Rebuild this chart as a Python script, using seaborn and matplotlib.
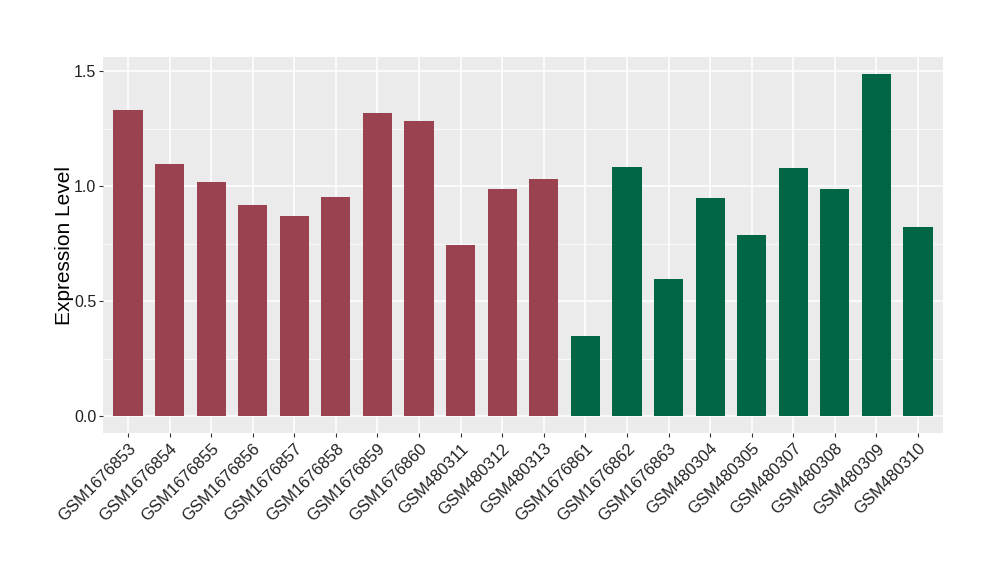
import pandas as pd
import matplotlib
matplotlib.use("Agg")
import matplotlib.pyplot as plt
from matplotlib.ticker import MultipleLocator
import seaborn as sns

# Sample names, expression values and the group each sample belongs to
samples = ["GSM1676853", "GSM1676854", "GSM1676855", "GSM1676856", "GSM1676857",
           "GSM1676858", "GSM1676859", "GSM1676860", "GSM480311", "GSM480312",
           "GSM480313", "GSM1676861", "GSM1676862", "GSM1676863", "GSM480304",
           "GSM480305", "GSM480307", "GSM480308", "GSM480309", "GSM480310"]
expression = [1.332, 1.097, 1.018, 0.918, 0.870, 0.953, 1.319, 1.284, 0.744, 0.988,
              1.031, 0.348, 1.084, 0.596, 0.949, 0.788, 1.079, 0.988, 1.488, 0.823]
groups = ["A"] * 11 + ["B"] * 9
group_colors = {"A": "#9B4251", "B": "#006645"}

df = pd.DataFrame({"sample": samples, "expression": expression, "group": groups})

sns.set_theme(style="darkgrid")
plt.rcParams["font.family"] = ["Liberation Sans", "DejaVu Sans"]

fig = plt.figure(figsize=(10, 5.8), dpi=100)
ax = fig.add_axes([0.103, 0.2534, 0.840, 0.6483])

sns.barplot(data=df, x="sample", y="expression", hue="group", palette=group_colors,
            width=0.7, dodge=False, legend=False, saturation=1, linewidth=0,
            edgecolor="none", ax=ax)

# ggplot-like expansion of the axes
ymax = max(expression)
ax.set_ylim(-0.05 * ymax, ymax * 1.05)
ax.set_xlim(-0.6, len(samples) - 0.4)

ax.set_facecolor("#EBEBEB")
ax.yaxis.set_major_locator(MultipleLocator(0.5))
ax.yaxis.set_minor_locator(MultipleLocator(0.25))
ax.grid(which="major", color="white", linewidth=1.1)
ax.grid(which="minor", axis="y", color="white", linewidth=0.55)
ax.set_axisbelow(True)
for s in ax.spines.values():
    s.set_visible(False)

ax.tick_params(axis="both", which="major", length=3.2, width=0.8, color="#333333",
               bottom=True, left=True)
ax.tick_params(axis="y", which="major", pad=1.5)
ax.tick_params(axis="x", which="major", pad=2.5)
ax.tick_params(axis="y", which="minor", length=0)
ax.set_yticks([0, 0.5, 1.0, 1.5])
ax.set_yticklabels(["0.0", "0.5", "1.0", "1.5"], fontsize=11.5, color="#222222")
ax.set_xticks(range(len(samples)))
ax.set_xticklabels(samples, rotation=45, ha="right", va="top", rotation_mode="anchor",
                   fontsize=12, color="#222222")

ax.set_xlabel("")
ax.set_ylabel("Expression Level", fontsize=15, color="black", labelpad=0)

fig.savefig("out.png", dpi=100, facecolor="white")
